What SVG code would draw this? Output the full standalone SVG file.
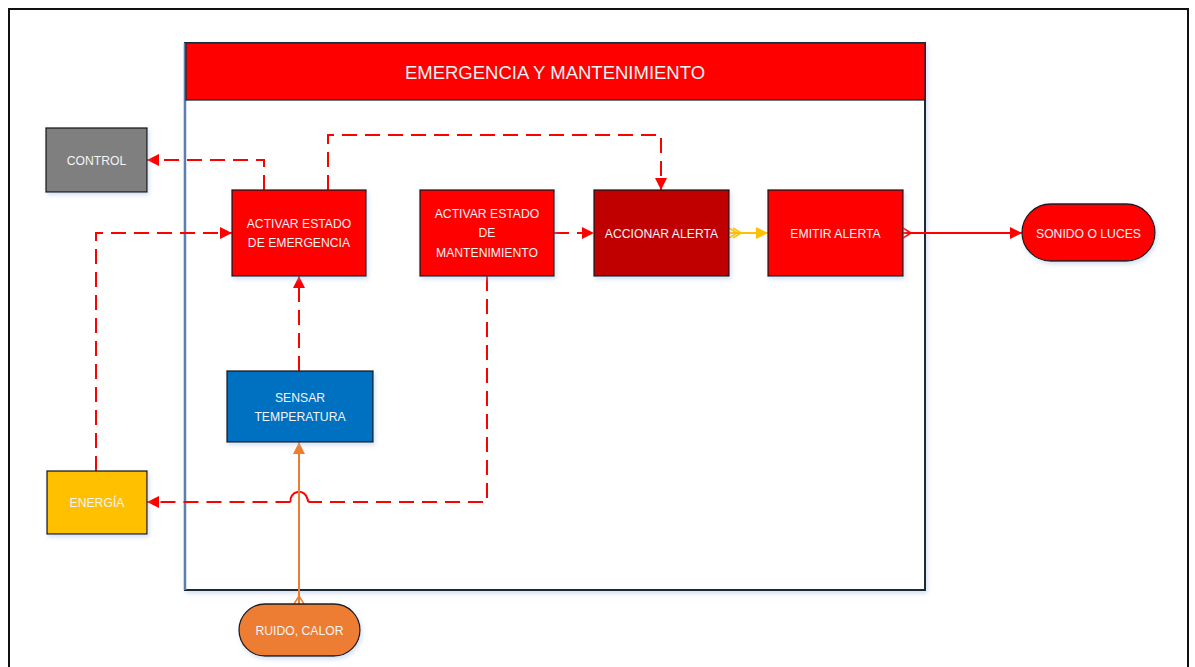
<svg xmlns="http://www.w3.org/2000/svg" width="1195" height="667" viewBox="0 0 1195 667">
  <style>
    .lbl { font-family: "Liberation Sans", Arial, sans-serif; font-size: 12.2px; fill: #f4f4f4; text-anchor: middle; }
    .title { font-family: "Liberation Sans", Arial, sans-serif; font-size: 18.5px; fill: #f4f4f4; text-anchor: middle; }
    .box { stroke: #1a1a1a; stroke-width: 1.3; filter: url(#shadow); }
    .dash { fill: none; stroke: #ff0000; stroke-width: 2; stroke-dasharray: 15 8; }
    .solid { fill: none; stroke-width: 2; }
  </style>
  <defs>
    <filter id="shadow" x="-10%" y="-10%" width="125%" height="130%">
      <feDropShadow dx="1.5" dy="2.5" stdDeviation="2" flood-color="#9db9e0" flood-opacity="0.45"/>
    </filter>
    <marker id="arrRed" markerWidth="14" markerHeight="14" refX="12" refY="6" orient="auto" markerUnits="userSpaceOnUse">
      <path d="M0,0 L12,6 L0,12 Z" fill="#ff0000"/>
    </marker>
    <marker id="arrYellow" markerWidth="14" markerHeight="14" refX="12" refY="6" orient="auto" markerUnits="userSpaceOnUse">
      <path d="M0,0 L12,6 L0,12 Z" fill="#ffc000"/>
    </marker>
    <marker id="arrOrange" markerWidth="14" markerHeight="14" refX="12" refY="6" orient="auto" markerUnits="userSpaceOnUse">
      <path d="M0,0 L12,6 L0,12 Z" fill="#ed7d31"/>
    </marker>
    <marker id="tailYellow" markerWidth="14" markerHeight="14" refX="0" refY="6" orient="auto" markerUnits="userSpaceOnUse">
      <path d="M0,1 L8,6 L0,11 M4,1 L12,6 L4,11" fill="none" stroke="#ffc000" stroke-width="1.5"/>
    </marker>
    <marker id="tailRed" markerWidth="14" markerHeight="14" refX="0" refY="6" orient="auto" markerUnits="userSpaceOnUse">
      <path d="M0,1 L8,6 L0,11 M0,6 L8,6" fill="none" stroke="#ff0000" stroke-width="1.5"/>
    </marker>
    <marker id="tailOrange" markerWidth="14" markerHeight="14" refX="0" refY="6" orient="auto" markerUnits="userSpaceOnUse">
      <path d="M0,1 L8,6 L0,11" fill="none" stroke="#ed7d31" stroke-width="1.5"/>
    </marker>
  </defs>

  <rect width="1195" height="667" fill="#ffffff"/>
  <!-- page frame -->
  <path d="M9,680 L9,9 L1188,9 L1188,680" fill="none" stroke="#111111" stroke-width="2"/>

  <!-- container -->
  <g id="container">
    <rect x="185" y="43" width="740" height="547" fill="#ffffff" stroke="#1f2a36" stroke-width="2" filter="url(#shadow)"/>
    <line x1="185" y1="43" x2="185" y2="590" stroke="#5b80aa" stroke-width="2.5"/>
    <rect x="186" y="43" width="739" height="57" fill="#ff0000" stroke="#1f2a36" stroke-width="1.3"/>
    <text class="title" x="555" y="79">EMERGENCIA Y MANTENIMIENTO</text>
  </g>

  <!-- connectors -->
  <g id="connectors">
    <path class="dash" d="M264,190 L264,160 L147,160" marker-end="url(#arrRed)"/>
    <path class="dash" d="M328,190 L328,135 L661,135 L661,190" marker-end="url(#arrRed)"/>
    <path class="dash" d="M96,471 L96,233 L232,233" marker-end="url(#arrRed)"/>
    <path class="dash" d="M299,371 L299,276" marker-end="url(#arrRed)"/>
    <path class="dash" d="M554,233 L594,233" marker-end="url(#arrRed)"/>
    <!-- maintenance to energy, hopping over the sensor input line -->
    <path class="dash" d="M487,276 L487,502 L310,502"/>
    <path class="solid" stroke="#ff0000" d="M310,502 Q308,502 307.5,499 A8.5,8.5 0 0 0 290.5,502"/>
    <path class="dash" d="M290.5,502 L147,502" marker-end="url(#arrRed)"/>
    <path class="solid" stroke="#ffc000" d="M729,233 L768,233" marker-start="url(#tailYellow)" marker-end="url(#arrYellow)"/>
    <path class="solid" stroke="#ff0000" d="M903,233 L1022,233" marker-start="url(#tailRed)" marker-end="url(#arrRed)"/>
    <path class="solid" stroke="#ed7d31" d="M299,604 L299,442" marker-start="url(#tailOrange)" marker-end="url(#arrOrange)"/>
  </g>

  <g id="control">
    <rect class="box" x="46" y="128" width="101" height="64" fill="#7f7f7f"/>
    <text class="lbl" x="96.5" y="164.5">CONTROL</text>
  </g>
  <g id="activar-emergencia">
    <rect class="box" x="232" y="190" width="134" height="86" fill="#ff0000"/>
    <text class="lbl" x="299" y="227.5">ACTIVAR ESTADO</text>
    <text class="lbl" x="299" y="246.5">DE EMERGENCIA</text>
  </g>
  <g id="activar-mantenimiento">
    <rect class="box" x="420" y="190" width="134" height="86" fill="#ff0000"/>
    <text class="lbl" x="487" y="217.5">ACTIVAR ESTADO</text>
    <text class="lbl" x="487" y="237">DE</text>
    <text class="lbl" x="487" y="256.5">MANTENIMIENTO</text>
  </g>
  <g id="accionar-alerta">
    <rect class="box" x="594" y="190" width="135" height="86" fill="#c00000"/>
    <text class="lbl" x="661.5" y="237.5">ACCIONAR ALERTA</text>
  </g>
  <g id="emitir-alerta">
    <rect class="box" x="768" y="190" width="135" height="86" fill="#ff0000"/>
    <text class="lbl" x="835.5" y="237.5">EMITIR ALERTA</text>
  </g>
  <g id="sonido-luces">
    <rect class="box" x="1022" y="204" width="133" height="57" rx="28.5" fill="#ff0000"/>
    <text class="lbl" x="1088.5" y="237.5">SONIDO O LUCES</text>
  </g>
  <g id="sensar-temperatura">
    <rect class="box" x="227" y="371" width="146" height="71" fill="#0070c0"/>
    <text class="lbl" x="300" y="401.5">SENSAR</text>
    <text class="lbl" x="300" y="420.5">TEMPERATURA</text>
  </g>
  <g id="energia">
    <rect class="box" x="47" y="471" width="100" height="63" fill="#ffc000"/>
    <text class="lbl" x="97" y="506.5">ENERGÍA</text>
  </g>
  <g id="ruido-calor">
    <rect class="box" x="239" y="604" width="121" height="52" rx="26" fill="#ed7d31"/>
    <text class="lbl" x="299.5" y="634.5">RUIDO, CALOR</text>
  </g>
</svg>
